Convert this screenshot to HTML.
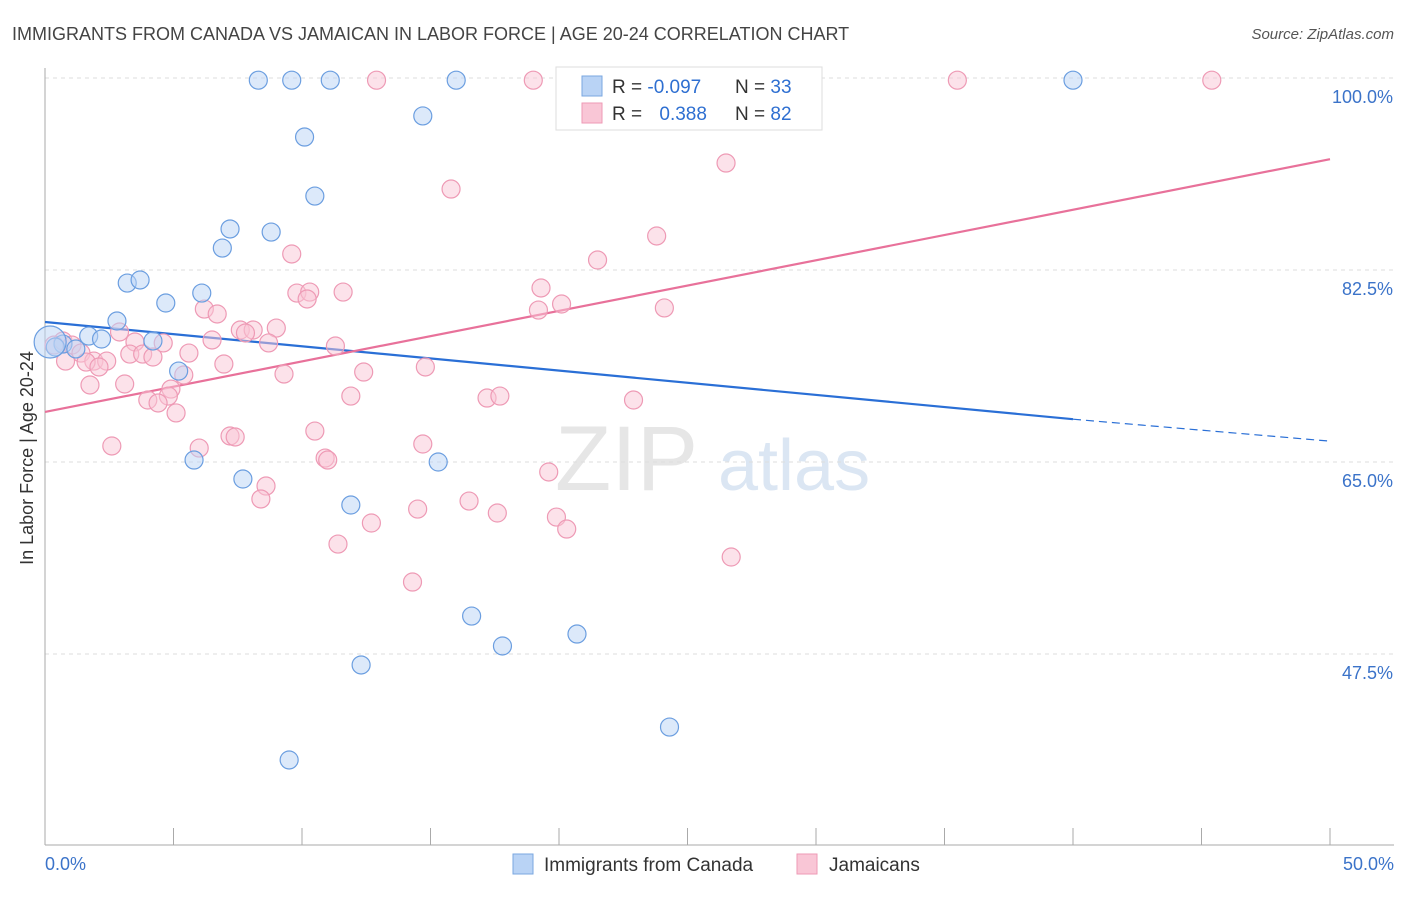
<!DOCTYPE html>
<html><head><meta charset="utf-8">
<style>
body{margin:0;background:#fff;font-family:"Liberation Sans",sans-serif;}
svg text{font-family:"Liberation Sans",sans-serif;}
</style></head>
<body>
<svg id="chart" width="1406" height="892" xmlns="http://www.w3.org/2000/svg">
<text x="12" y="40" font-size="18" fill="#444">IMMIGRANTS FROM CANADA VS JAMAICAN IN LABOR FORCE | AGE 20-24 CORRELATION CHART</text>
<text x="1394" y="39" font-size="15" fill="#555" text-anchor="end" font-style="italic">Source: ZipAtlas.com</text>
<text x="33" y="458" font-size="18" fill="#333" text-anchor="middle" transform="rotate(-90 33 458)">In Labor Force | Age 20-24</text>
<g><text x="555" y="490" font-size="92" fill="#e6e6e6" font-family="Liberation Serif,serif">ZIP</text><text x="718" y="490" font-size="72" fill="#dbe6f3">atlas</text></g>
<g id="grid"></g><g id="axes"></g><g id="lines"></g><g id="pts"></g>
<g>
<rect x="556" y="67" width="266" height="63" fill="#fff" stroke="#ddd"/>
<rect x="582" y="76" width="20" height="20" fill="#b9d3f5" stroke="#7aa7e0"/>
<rect x="582" y="103" width="20" height="20" fill="#f9c6d6" stroke="#ee9ab5"/>
<text x="612" y="93" font-size="19" fill="#333">R = <tspan fill="#2e6fd1">-0.097</tspan></text>
<text x="735" y="93" font-size="19" fill="#333">N = <tspan fill="#2e6fd1">33</tspan></text>
<text x="612" y="120" font-size="19" fill="#333">R = <tspan fill="#2e6fd1" dx="12">0.388</tspan></text>
<text x="735" y="120" font-size="19" fill="#333">N = <tspan fill="#2e6fd1">82</tspan></text>
</g>
<g>
<rect x="513" y="854" width="20" height="20" fill="#b9d3f5" stroke="#7aa7e0"/>
<text x="544" y="871" font-size="19" fill="#333">Immigrants from Canada</text>
<rect x="797" y="854" width="20" height="20" fill="#f9c6d6" stroke="#ee9ab5"/>
<text x="829" y="871" font-size="19" fill="#333">Jamaicans</text>
</g>
</svg>
<script>
const yTicks=[47.5,65.0,82.5,100.0];
const xTickVals=[0,5,10,15,20,25,30,35,40,45,50];
const blueX=[8.3,9.6,11.1,16.0,40.0,14.7,10.1,10.5,7.2,8.8,6.9,3.2,3.7,4.7,6.1,2.8,1.7,2.2,4.2,0.7,0.4,1.2,5.2,5.8,7.7,15.3,11.9,16.6,17.8,20.7,12.3,24.3,9.5,0.2];
const blueY=[99.8,99.8,99.8,99.8,99.8,96.54,94.62,89.24,86.24,85.96,84.5,81.31,81.59,79.49,80.4,77.85,76.48,76.21,76.03,75.75,75.48,75.3,73.29,65.18,63.45,65.0,61.08,50.96,48.23,49.32,46.5,40.84,37.84,75.94];
const pinkX=[12.9,19.0,27.6,35.5,45.4,26.5,15.8,23.8,9.6,21.5,19.3,9.8,10.3,11.6,10.2,20.1,19.2,24.1,6.2,6.7,9.0,7.6,8.1,7.8,6.5,2.9,8.7,11.3,3.5,4.6,0.7,0.35,1.05,1.4,5.6,3.3,3.8,4.2,0.8,1.9,2.4,1.6,2.1,6.96,14.8,5.4,12.4,9.3,3.1,1.75,4.9,4.8,4.0,4.4,11.9,17.2,17.7,22.9,5.1,10.5,7.2,7.4,2.6,14.7,6.0,10.9,11.0,19.6,8.6,8.4,16.5,14.5,17.6,19.9,12.7,20.3,11.4,26.7,14.3];
const pinkY=[99.8,99.8,99.8,99.8,99.8,92.25,89.88,85.6,83.96,83.41,80.86,80.4,80.49,80.49,79.86,79.4,78.85,79.04,78.94,78.49,77.21,77.03,77.03,76.76,76.12,76.85,75.85,75.57,75.94,75.85,76.03,75.66,75.66,74.93,74.93,74.84,74.84,74.57,74.2,74.2,74.2,74.11,73.66,73.93,73.66,72.93,73.2,73.02,72.11,72.02,71.65,71.01,70.65,70.38,71.01,70.83,71.01,70.65,69.47,67.82,67.37,67.28,66.46,66.64,66.27,65.36,65.18,64.09,62.81,61.63,61.44,60.71,60.35,59.98,59.44,58.89,57.52,56.34,54.06];
const blueLine=[[0,77.76],[40,68.9],[50,66.9]];
const pinkLine=[[0,69.56],[50,92.6]];
const NS='http://www.w3.org/2000/svg';
function sx(v){return 45+v*25.7;}
function sy(v){return 78+(100-v)/17.5*192;}
function mk(p,t,a){const e=document.createElementNS(NS,t);for(const k in a)e.setAttribute(k,a[k]);document.getElementById(p).appendChild(e);return e;}
yTicks.forEach(v=>{const l=mk('grid','line',{x1:45,x2:1394,y1:sy(v),y2:sy(v),stroke:'#ddd','stroke-dasharray':'4,4'});


const t=mk('grid','text',{x:1393,y:sy(v)+25,'font-size':18,fill:'#3b73c9','text-anchor':'end'});t.textContent=v.toFixed(1)+'%';

});
mk('axes','line',{x1:45,x2:45,y1:68,y2:845,stroke:'#aaa'});
mk('axes','line',{x1:45,x2:1394,y1:845,y2:845,stroke:'#aaa'});
xTickVals.forEach(v=>{const l=mk('axes','line',{x1:sx(v),x2:sx(v),y1:828,y2:845,stroke:'#aaa'});

});
[[0,'0.0%','start',45],[50,'50.0%','end',1394]].forEach(d=>{const t=mk('axes','text',{x:d[3],y:870,'font-size':18,fill:'#3b73c9','text-anchor':d[2]});t.textContent=d[1];

});
function drawPts(xs,ys,fill,stroke,name){xs.forEach((x,i)=>{const r=(name==='canada-point'&&i===xs.length-1)?16:9;
const c=mk('pts','circle',{cx:sx(x),cy:sy(ys[i]),r:r,fill:fill,'fill-opacity':0.5,stroke:stroke,'stroke-width':1.2});

});}
drawPts(pinkX,pinkY,'#f9c6d6','#ee9ab5','jamaican-point');
drawPts(blueX,blueY,'#b9d3f5','#6b9ee0','canada-point');
const bl=mk('lines','line',{x1:sx(blueLine[0][0]),y1:sy(blueLine[0][1]),x2:sx(blueLine[1][0]),y2:sy(blueLine[1][1]),stroke:'#2a6fd6','stroke-width':2.2});


const bd=mk('lines','line',{x1:sx(blueLine[1][0]),y1:sy(blueLine[1][1]),x2:sx(blueLine[2][0]),y2:sy(blueLine[2][1]),stroke:'#2a6fd6','stroke-width':1.2,'stroke-dasharray':'8,5'});


const pl=mk('lines','line',{x1:sx(pinkLine[0][0]),y1:sy(pinkLine[0][1]),x2:sx(pinkLine[1][0]),y2:sy(pinkLine[1][1]),stroke:'#e8719a','stroke-width':2.2});


</script>
</body></html>
